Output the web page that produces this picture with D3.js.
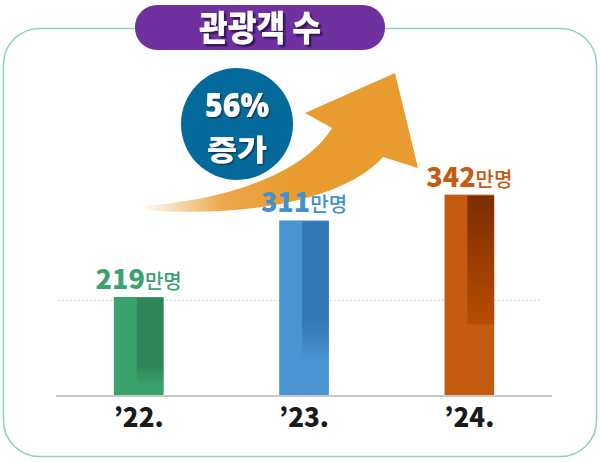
<!DOCTYPE html>
<html>
<head>
<meta charset="utf-8">
<script src="https://cdn.jsdelivr.net/npm/d3@7"></script>
<style>
  html, body { margin: 0; padding: 0; background: #fff; }
  svg { display: block; }
</style>
</head>
<body>
<svg id="chart" width="600" height="462"></svg>
<script>
const svg = d3.select("#chart");

// data
const years = ["’22.", "’23.", "’24."];
const visitors = [219, 311, 342];
const unitLabel = "만명";
const titleText = "관광객 수";
const growthText = ["56%", "증가"];
const gridValues = [215];

// styles per bar
const lightColors = ["#3aa36c", "#4a94d1", "#c55a11"];
const darkTop = ["#2e8559", "#3479b5", "#7a2e00"];
const darkBottom = ["#2e8559", "#3479b5", "#b84c00"];
const labelColors = ["#3aa36c", "#4291d0", "#c55a11"];

const baseY = 396;
const x = d3.scaleBand().domain(years).range([56, 552]).paddingInner(0.7).paddingOuter(0.35);
const y = d3.scaleLinear().domain([100, 350]).range([baseY, 188]);

const defs = svg.append("defs");

// shadows for white text
function shadow(id, color, dx, dy) {
  defs.append("filter").attr("id", id)
    .attr("x", "-20%").attr("y", "-20%").attr("width", "140%").attr("height", "140%")
    .append("feDropShadow")
    .attr("dx", dx).attr("dy", dy).attr("stdDeviation", 0.6)
    .attr("flood-color", color).attr("flood-opacity", 0.8);
}
shadow("titleShadow", "#2a0c48", 2.5, 2.5);
shadow("circleShadow", "#08324a", 1.5, 1.5);

// frame
svg.append("rect")
  .attr("x", 3.5).attr("y", 28.5).attr("width", 593).attr("height", 428)
  .attr("rx", 36).attr("ry", 36)
  .attr("fill", "#fff").attr("stroke", "#8fd1c8").attr("stroke-width", 1.6);

// grid line
svg.selectAll(".grid").data(gridValues).join("line")
  .attr("x1", 58).attr("x2", 542)
  .attr("y1", d => y(d)).attr("y2", d => y(d))
  .attr("stroke", "#d8d8d8").attr("stroke-dasharray", "2,2");

// arrow gradient
const ag = defs.append("linearGradient").attr("id", "arrowGrad")
  .attr("gradientUnits", "userSpaceOnUse")
  .attr("x1", 140).attr("y1", 0).attr("x2", 290).attr("y2", 0);
ag.append("stop").attr("offset", 0).attr("stop-color", "#e89c2f").attr("stop-opacity", 0);
ag.append("stop").attr("offset", 0.55).attr("stop-color", "#e8982c").attr("stop-opacity", 0.85);
ag.append("stop").attr("offset", 1).attr("stop-color", "#e89c2f").attr("stop-opacity", 1);

svg.append("path")
  .attr("d", "M395,73 L418,168 L383,157 C345,200 245,218 143,210 L143,206 C230,200 305,172 332,128 L305,113 Z")
  .attr("fill", "url(#arrowGrad)");

// growth circle
svg.append("circle").attr("cx", 237).attr("cy", 124).attr("r", 56).attr("fill", "#036a9b");
svg.append("text").attr("x", 237).attr("y", 117)
  .attr("text-anchor", "middle").attr("font-family", "Noto Sans")
  .attr("font-weight", 900).attr("font-size", 33)
  .attr("textLength", 64).attr("lengthAdjust", "spacingAndGlyphs")
  .attr("filter", "url(#circleShadow)")
  .attr("fill", "#fff").text(growthText[0]);
svg.append("text").attr("x", 237).attr("y", 161)
  .attr("text-anchor", "middle").attr("font-family", "Noto Sans CJK KR")
  .attr("font-weight", 900).attr("font-size", 29)
  .attr("textLength", 60).attr("lengthAdjust", "spacingAndGlyphs")
  .attr("filter", "url(#circleShadow)")
  .attr("fill", "#fff").text(growthText[1]);

// bars
const bw = x.bandwidth();
visitors.forEach((v, i) => {
  const g = defs.append("linearGradient").attr("id", "dark" + i)
    .attr("x1", 0).attr("y1", 0).attr("x2", 0).attr("y2", 1);
  if (i === 2) {
    g.append("stop").attr("offset", 0).attr("stop-color", darkTop[i]);
    g.append("stop").attr("offset", 1).attr("stop-color", darkBottom[i]);
  } else {
    const hold = i === 0 ? 0.72 : 0.6;
    const fade = i === 0 ? 0.92 : 0.82;
    g.append("stop").attr("offset", 0).attr("stop-color", darkTop[i]);
    g.append("stop").attr("offset", hold).attr("stop-color", darkBottom[i]);
    g.append("stop").attr("offset", fade).attr("stop-color", lightColors[i]);
    g.append("stop").attr("offset", 1).attr("stop-color", lightColors[i]);
  }
});

svg.selectAll(".bar").data(visitors).join("rect")
  .attr("x", (d, i) => x(years[i]))
  .attr("y", d => y(d))
  .attr("width", bw)
  .attr("height", d => baseY - y(d))
  .attr("fill", (d, i) => lightColors[i]);

svg.selectAll(".barDark").data(visitors).join("rect")
  .attr("x", (d, i) => x(years[i]) + bw * 0.46)
  .attr("y", d => y(d) + 1)
  .attr("width", bw * 0.54)
  .attr("height", (d, i) => (baseY - y(d)) * (i === 2 ? 0.64 : 0.96))
  .attr("fill", (d, i) => `url(#dark${i})`);

// baseline
svg.append("line").attr("x1", 56).attr("x2", 552).attr("y1", baseY).attr("y2", baseY)
  .attr("stroke", "#c8c8c8").attr("stroke-width", 2);

// value labels
const vl = svg.selectAll(".vlabel").data(visitors).join("text")
  .attr("x", (d, i) => x(years[i]) + bw / 2)
  .attr("y", d => y(d) - 8)
  .attr("text-anchor", "middle")
  .attr("font-family", "Noto Sans CJK KR")
  .attr("fill", (d, i) => labelColors[i]);
vl.append("tspan").attr("font-size", 27).attr("font-weight", 900).text(d => d);
vl.append("tspan").attr("font-size", 20).attr("font-weight", 500).text(unitLabel);

// year labels
svg.selectAll(".xlabel").data(years).join("text")
  .attr("x", d => x(d) + bw / 2)
  .attr("y", 427)
  .attr("text-anchor", "middle")
  .attr("font-family", "Noto Sans CJK KR")
  .attr("font-weight", 900).attr("font-size", 26)
  .attr("fill", "#1a1a1a")
  .text(d => d);

// title pill
svg.append("rect").attr("x", 135).attr("y", 5).attr("width", 250).attr("height", 45)
  .attr("rx", 22).attr("ry", 22).attr("fill", "#7030a0");
svg.append("text").attr("x", 260).attr("y", 41)
  .attr("text-anchor", "middle").attr("font-family", "Noto Sans CJK KR")
  .attr("font-weight", 900).attr("font-size", 35)
  .attr("textLength", 122).attr("lengthAdjust", "spacingAndGlyphs")
  .attr("filter", "url(#titleShadow)")
  .attr("fill", "#fff").text(titleText);
</script>
</body>
</html>
